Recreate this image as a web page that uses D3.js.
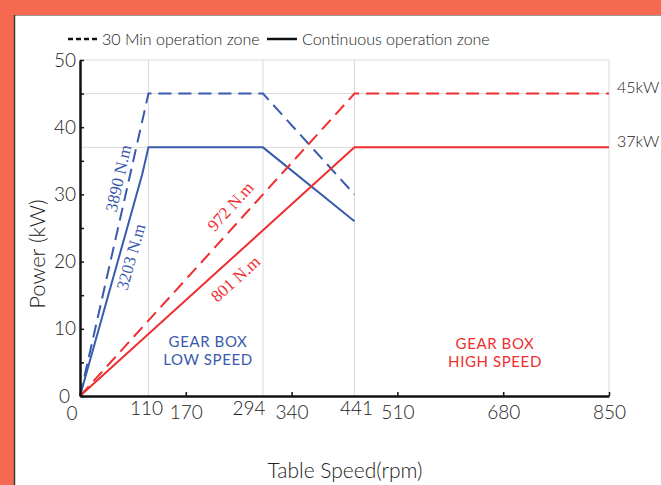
<!DOCTYPE html>
<html lang="en">
<head>
<meta charset="UTF-8">
<title>Table Speed vs Power</title>
<script src="https://d3js.org/d3.v7.min.js"></script>
<style>
  body { margin: 0; background: #f4694f; }
  text { font-family: Lato, "Open Sans", sans-serif; font-weight: 300; }
</style>
</head>
<body>
<script>
    const width  = 661;
    const height = 485;

    // data
    const speedTicks   = [170, 340, 510, 680, 850];
    const markSpeeds   = [110, 294, 441];
    const powerTicks   = [0, 5, 10, 15, 20, 25, 30, 35, 40, 45, 50];
    const powerMarks   = [45, 37];
    const lowSpeed30   = [[0, 0], [110, 45], [294, 45], [441, 30]];
    const lowSpeedCont = [[0, 0], [100, 33], [110, 37], [294, 37], [441, 26]];
    const highSpeed30  = [[0, 0], [441, 45], [850, 45]];
    const highSpeedCont= [[0, 0], [441, 37], [850, 37]];
    const torqueLabels = ["3890 N.m", "3203 N.m", "972 N.m", "801 N.m"];

    const blue = "#3a5bad";
    const red  = "#ef2e30";

    const x = d3.scaleLinear().domain([0, 850]).range([80, 609]);
    const y = d3.scaleLinear().domain([0, 50]).range([396, 60]);

    const svg = d3.select("body").append("svg")
        .attr("width", width)
        .attr("height", height);

    // white panel
    svg.append("rect")
        .attr("x", 14).attr("y", 15)
        .attr("width", width - 14).attr("height", height - 15)
        .attr("fill", "#fff");
    svg.append("line").attr("x1", 14).attr("x2", width).attr("y1", 15.5).attr("y2", 15.5)
        .attr("stroke", "#9a9a9a").attr("stroke-width", 1);
    svg.append("line").attr("x1", 14.5).attr("x2", 14.5).attr("y1", 15).attr("y2", height)
        .attr("stroke", "#3a3a3a").attr("stroke-width", 1.5);

    // grid + frame
    const grid = svg.append("g").attr("stroke", "#d9d9d9").attr("stroke-width", 1);
    markSpeeds.forEach(s => {
        grid.append("line")
            .attr("x1", x(s)).attr("x2", x(s))
            .attr("y1", y(50)).attr("y2", y(0));
    });
    powerMarks.concat([50]).forEach(p => {
        grid.append("line")
            .attr("x1", x(0)).attr("x2", x(850))
            .attr("y1", y(p)).attr("y2", y(p));
    });
    grid.append("line")
        .attr("x1", x(850)).attr("x2", x(850))
        .attr("y1", y(50)).attr("y2", y(0));

    // curves
    const line = d3.line().x(d => x(d[0])).y(d => y(d[1]));
    const curves = [
        {data: lowSpeed30,    color: blue, dash: "13,7"},
        {data: lowSpeedCont,  color: blue, dash: null},
        {data: highSpeed30,   color: red,  dash: "13,7"},
        {data: highSpeedCont, color: red,  dash: null}
    ];
    curves.forEach(c => {
        svg.append("path")
            .datum(c.data)
            .attr("d", line)
            .attr("fill", "none")
            .attr("stroke", c.color)
            .attr("stroke-width", 2)
            .attr("stroke-dasharray", c.dash);
    });

    // torque labels along the rising segments
    const angle = (a, b) => Math.atan2(y(b[1]) - y(a[1]), x(b[0]) - x(a[0])) * 180 / Math.PI;
    const torque = [
        {text: torqueLabels[0], at: [62,   32.4], seg: lowSpeed30,    color: blue},
        {text: torqueLabels[1], at: [82,   20.7], seg: lowSpeedCont,  color: blue},
        {text: torqueLabels[2], at: [242,  28.2], seg: highSpeed30,   color: red},
        {text: torqueLabels[3], at: [250,  17.4], seg: highSpeedCont, color: red}
    ];
    torque.forEach(t => {
        const a = angle(t.seg[0], t.seg[1]);
        svg.append("text")
            .attr("transform", "translate(" + [x(t.at[0]), y(t.at[1])] + ") rotate(" + a + ")")
            .attr("text-anchor", "middle")
            .attr("dominant-baseline", "central")
            .style("font-family", "'Liberation Serif', 'DejaVu Serif', serif")
            .style("font-weight", 400)
            .style("font-size", "17px")
            .attr("fill", t.color)
            .text(t.text);
    });

    // zone labels
    const zone = (cx, cy, lines, color) => {
        const t = svg.append("text")
            .attr("text-anchor", "middle")
            .attr("fill", color)
            .style("font-weight", 400)
            .style("letter-spacing", "0.6px")
            .style("font-size", "15px");
        lines.forEach((l, i) => {
            t.append("tspan").attr("x", cx).attr("y", cy + i * 18).text(l);
        });
    };
    zone(208, 347, ["GEAR BOX", "LOW SPEED"], blue);
    zone(495, 349, ["GEAR BOX", "HIGH SPEED"], red);

    // axes
    const yAxis = d3.axisLeft(y)
        .tickValues(powerTicks)
        .tickSizeInner(-4)
        .tickSizeOuter(0)
        .tickPadding(4)
        .tickFormat(d => d % 10 === 0 ? d : "");
    const gy = svg.append("g")
        .attr("transform", "translate(" + x(0) + ",0)")
        .call(yAxis);

    const xAxis = d3.axisBottom(x)
        .tickValues(speedTicks)
        .tickSizeInner(-4)
        .tickSizeOuter(0)
        .tickPadding(10);
    const gx = svg.append("g")
        .attr("transform", "translate(0," + y(0) + ")")
        .call(xAxis);

    [gx, gy].forEach(g => {
        g.select(".domain").attr("stroke", "#111").attr("stroke-width", 2.5);
        g.selectAll(".tick line").attr("stroke", "#111").attr("stroke-width", 1.5);
        g.selectAll("text")
            .style("font-family", "Lato, sans-serif")
            .style("font-weight", 300)
            .style("font-size", "19px")
            .attr("fill", "#222");
    });
    gy.selectAll(".tick").filter(d => d === 0).select("text").attr("dx", -6);

    // extra speed labels (raised) and the origin 0
    const markShift = {110: -2, 294: -14, 441: 2};
    markSpeeds.forEach(s => {
        svg.append("text")
            .attr("x", x(s) + markShift[s]).attr("y", 415)
            .attr("text-anchor", "middle")
            .attr("fill", "#222")
            .style("font-size", "19px")
            .text(s);
    });
    svg.append("text")
        .attr("x", 72).attr("y", 420)
        .attr("text-anchor", "middle")
        .attr("fill", "#222")
        .style("font-size", "19px")
        .text(0);

    // right-side power labels
    powerMarks.forEach(p => {
        svg.append("text")
            .attr("x", 617).attr("y", y(p) - 7)
            .attr("dominant-baseline", "central")
            .attr("fill", "#222")
            .style("font-size", "16px")
            .text(p + "kW");
    });

    // axis titles
    svg.append("text")
        .attr("x", 345).attr("y", 478)
        .attr("text-anchor", "middle")
        .attr("fill", "#222")
        .style("font-size", "21px")
        .text("Table Speed(rpm)");
    svg.append("text")
        .attr("transform", "translate(45,254) rotate(-90)")
        .attr("text-anchor", "middle")
        .attr("fill", "#222")
        .style("font-size", "22px")
        .text("Power (kW)");

    // legend
    const legend = svg.append("g");
    legend.append("line").attr("x1", 68).attr("x2", 97).attr("y1", 39).attr("y2", 39)
        .attr("stroke", "#111").attr("stroke-width", 2.5).attr("stroke-dasharray", "5,3");
    legend.append("text").attr("x", 102).attr("y", 45)
        .attr("fill", "#222").style("font-size", "16px")
        .text("30 Min operation zone");
    legend.append("line").attr("x1", 267).attr("x2", 297).attr("y1", 39).attr("y2", 39)
        .attr("stroke", "#111").attr("stroke-width", 2.5);
    legend.append("text").attr("x", 302).attr("y", 45)
        .attr("fill", "#222").style("font-size", "16px")
        .text("Continuous operation zone");
</script>
</body>
</html>
